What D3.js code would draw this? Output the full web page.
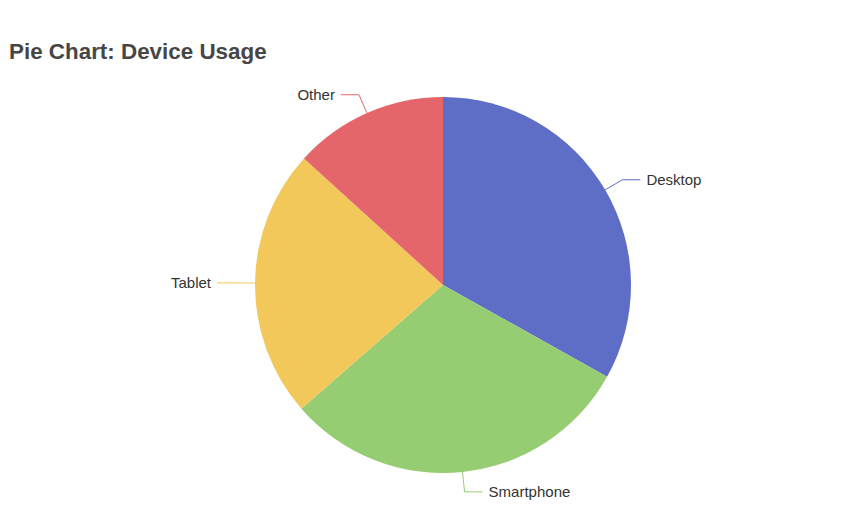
<!DOCTYPE html>
<html>
<head>
<meta charset="utf-8">
<script src="https://cdn.jsdelivr.net/npm/d3@7"></script>
<style>
  body { margin: 0; background: #fff; }
  #chart { width: 850px; height: 514px; }
</style>
</head>
<body>
<div id="chart"></div>
<script>
const categories = ['Desktop', 'Smartphone', 'Tablet', 'Other'];
const usage = [2500, 2300, 1750, 1000];
const colors = ['#5e6dc6', '#96cd72', '#f2c85b', '#e4666a'];

class DevicePie {
  constructor({ container }) {
    this.containerEl = d3.select(container);
    this.width = 850;
    this.height = 514;
    this.center = { x: 443, y: 285 };
    this.radius = 188;
  }

  load() {
    this.svgEl = this.containerEl.append('svg')
      .attr('width', this.width)
      .attr('height', this.height);

    this.svgEl.append('text')
      .text('Pie Chart: Device Usage')
      .attr('x', 9)
      .attr('y', 59)
      .attr('fill', '#464646')
      .attr('font-family', 'Liberation Sans, Arial, sans-serif')
      .attr('font-size', 22.4)
      .attr('font-weight', 'bold');

    this.mainGroupEl = this.svgEl.append('g')
      .attr('transform', `translate(${this.center.x}, ${this.center.y})`);

    const color = d3.scaleOrdinal().domain(categories).range(colors);
    const pie = d3.pie().sort(null).value(d => d.value);
    const slices = pie(categories.map((name, i) => ({ name, value: usage[i] })));

    const arc = d3.arc().innerRadius(0).outerRadius(this.radius);

    this.mainGroupEl.selectAll('path.slice')
      .data(slices)
      .enter()
      .append('path')
      .classed('slice', true)
      .attr('d', arc)
      .attr('fill', d => color(d.data.name));

    // linhas guia + rótulos
    const len1 = 20, len2 = 18, gap = 6;
    const polar = (r, a) => [r * Math.sin(a), -r * Math.cos(a)];

    slices.forEach(d => {
      const mid = (d.startAngle + d.endAngle) / 2;
      const side = Math.sin(mid) >= 0 ? 1 : -1;
      const p0 = polar(this.radius, mid);
      const p1 = polar(this.radius + len1, mid);
      const p2 = [p1[0] + side * len2, p1[1]];

      this.mainGroupEl.append('polyline')
        .attr('points', [p0, p1, p2].map(p => p.join(',')).join(' '))
        .attr('fill', 'none')
        .attr('stroke', color(d.data.name))
        .attr('stroke-width', 1);

      this.mainGroupEl.append('text')
        .text(d.data.name)
        .attr('x', p2[0] + side * gap)
        .attr('y', p2[1])
        .attr('dy', '0.35em')
        .attr('text-anchor', side > 0 ? 'start' : 'end')
        .attr('fill', '#333')
        .attr('font-family', 'Liberation Sans, Arial, sans-serif')
        .attr('font-size', 15);
    });
  }
}

new DevicePie({ container: '#chart' }).load();
</script>
</body>
</html>
